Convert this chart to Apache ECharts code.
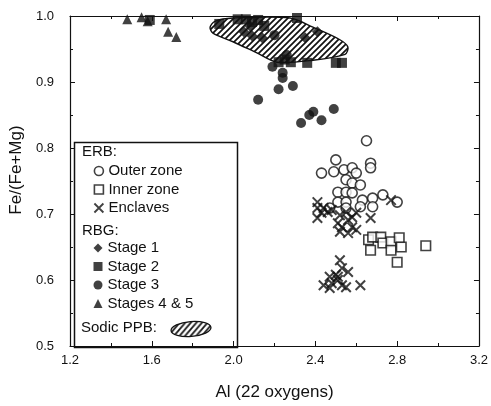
<!DOCTYPE html>
<html>
<head>
<meta charset="utf-8">
<script src="https://cdn.jsdelivr.net/npm/echarts@6/dist/echarts.min.js"></script>
<style>
html,body{margin:0;padding:0;background:#fff;}
#chart{width:491px;height:406px;}
</style>
</head>
<body>
<div id="chart"></div>
<script>
// ---- axis settings ----
const xRange = [1.2, 3.2];
const xStep = 0.4;
const yRange = [0.5, 1.0];
const yStep = 0.1;
const xTitle = 'Al (22 oxygens)';
const yTitle = 'Fe/(Fe+Mg)';

// ---- ERB ----
const outerZone = [
  [2.65,0.811],[2.67,0.777],[2.67,0.770],[2.50,0.782],[2.43,0.762],[2.49,0.764],
  [2.54,0.767],[2.58,0.770],[2.60,0.762],[2.55,0.752],[2.58,0.747],[2.62,0.744],
  [2.51,0.733],[2.55,0.733],[2.58,0.732],[2.73,0.729],[2.80,0.718],[2.51,0.718],
  [2.55,0.718],[2.63,0.721],[2.68,0.724],[2.47,0.709],[2.55,0.709],[2.62,0.711],
  [2.68,0.711]
];
const innerZone = [
  [2.66,0.661],[2.68,0.665],[2.72,0.665],[2.67,0.645],[2.73,0.656],[2.77,0.658],
  [2.77,0.645],[2.81,0.664],[2.82,0.650],[2.80,0.627],[2.94,0.652]
];
const enclaves = [
  [2.41,0.718],[2.41,0.709],[2.44,0.709],[2.41,0.694],[2.46,0.703],[2.43,0.702],
  [2.48,0.706],[2.52,0.698],[2.55,0.703],[2.58,0.695],[2.60,0.702],[2.56,0.691],
  [2.53,0.680],[2.58,0.680],[2.52,0.673],[2.56,0.671],[2.60,0.676],[2.51,0.686],
  [2.67,0.694],[2.77,0.721],
  [2.52,0.630],[2.53,0.618],[2.56,0.612],[2.50,0.608],[2.47,0.605],[2.51,0.600],
  [2.44,0.592],[2.47,0.588],[2.53,0.592],[2.55,0.589],[2.48,0.595],[2.62,0.592],
  [2.51,0.605]
];

// ---- RBG ----
const stage1 = [
  [2.05,0.976],[2.09,0.970],[2.14,0.967],[2.35,0.967],[2.41,0.976],[2.08,0.985]
];
const stage2 = [
  [1.59,0.994],[1.93,0.988],[2.02,0.995],[2.06,0.995],[2.09,0.991],[2.12,0.994],
  [2.15,0.985],[2.31,0.997],[2.22,0.930],[2.25,0.934],[2.28,0.930],[2.36,0.929],
  [2.50,0.929],[2.53,0.929]
];
const stage3 = [
  [2.19,0.923],[2.24,0.914],[2.24,0.906],[2.29,0.894],[2.22,0.889],[2.12,0.873],
  [2.33,0.838],[2.37,0.850],[2.39,0.855],[2.43,0.842],[2.49,0.859],[2.26,0.941],
  [2.20,0.971]
];
const stages45 = [
  [1.48,0.995],[1.55,0.998],[1.58,0.992],[1.67,0.995],[1.68,0.976],[1.72,0.968]
];

// ---- Sodic PPB field outline ----
const ppbOutline = [
  [1.885,0.983],[1.909,0.992],[1.997,0.997],[2.276,0.997],[2.388,0.983],
  [2.520,0.964],[2.559,0.953],[2.545,0.942],[2.388,0.933],[2.212,0.930],
  [2.114,0.944],[1.997,0.961],[1.899,0.974]
];

// hatch pattern
function makeHatch(){
  const c = document.createElement('canvas');
  const s = 6;
  c.width = s; c.height = s;
  const g = c.getContext('2d');
  g.fillStyle = '#fff'; g.fillRect(0,0,s,s);
  g.strokeStyle = '#111'; g.lineWidth = 1.7;
  g.beginPath();
  g.moveTo(-1, s+1); g.lineTo(s+1, -1);
  g.moveTo(-1, 1); g.lineTo(1, -1);
  g.moveTo(s-1, s+1); g.lineTo(s+1, s-1);
  g.stroke();
  return c;
}
const hatch = {image: makeHatch(), repeat: 'repeat'};

const FONT = 'Liberation Sans, Arial, Helvetica, sans-serif';
const INK = '#111';
const crossPath = 'path://M0,0L10,10M10,0L0,10';

const chart = echarts.init(document.getElementById('chart'), null, {renderer:'canvas'});

function axisCommon(showLabel){
  return {
    axisLine:{show:true, onZero:false, lineStyle:{color:INK, width:1.2}},
    axisTick:{show:true, inside:true, length:5, lineStyle:{color:INK, width:1}},
    minorTick:{show:true, splitNumber:2, length:3, lineStyle:{color:INK, width:1}},
    splitLine:{show:false},
    axisLabel:{show:showLabel, color:INK, fontFamily:FONT, fontSize:13}
  };
}

const openStyle = {color:'#fff', borderColor:INK, borderWidth:1.6};
const filledStyle = {color:INK, borderColor:INK, borderWidth:0};

const legendText = {fontFamily:FONT, fontSize:15, color:INK, lineHeight:18};

const option = {
  animation:false,
  backgroundColor:'#fff',
  grid:{left:70, right:12, top:16, bottom:60, containLabel:false},
  xAxis:[
    Object.assign({type:'value', position:'bottom', min:xRange[0], max:xRange[1], interval:xStep,
      name:xTitle, nameLocation:'middle', nameGap:38,
      nameTextStyle:{fontFamily:FONT, fontSize:17, color:INK}}, axisCommon(true),
      {axisLabel:{show:true, color:INK, fontFamily:FONT, fontSize:13, margin:8,
        formatter:v=>v.toFixed(1)}}),
    Object.assign({type:'value', position:'top', min:xRange[0], max:xRange[1], interval:xStep}, axisCommon(false))
  ],
  yAxis:[
    Object.assign({type:'value', position:'left', min:yRange[0], max:yRange[1], interval:yStep,
      name:yTitle, nameLocation:'middle', nameGap:44, nameRotate:90,
      nameTextStyle:{fontFamily:FONT, fontSize:17, color:INK, padding:[0,0,0,22]}}, axisCommon(true),
      {axisLabel:{show:true, color:INK, fontFamily:FONT, fontSize:13, margin:16,
        formatter:v=>v.toFixed(1)}}),
    Object.assign({type:'value', position:'right', min:yRange[0], max:yRange[1], interval:yStep}, axisCommon(false))
  ],
  legend:[
    {
      orient:'vertical', left:93.5, top:162, padding:0, itemGap:0.5,
      itemWidth:9, itemHeight:9, textStyle:legendText, selectedMode:false,
      data:[
        {name:'Outer zone', icon:'circle', itemStyle:openStyle},
        {name:'Inner zone', icon:'rect', itemStyle:openStyle},
        {name:'Enclaves', icon:crossPath, itemStyle:{color:'transparent', borderColor:INK, borderWidth:1.8}}
      ]
    },
    {
      orient:'vertical', left:93.5, top:239, padding:0, itemGap:0.5,
      itemWidth:9, itemHeight:9, textStyle:legendText, selectedMode:false,
      data:[
        {name:'Stage 1', icon:'diamond', itemStyle:filledStyle},
        {name:'Stage 2', icon:'rect', itemStyle:filledStyle},
        {name:'Stage 3', icon:'circle', itemStyle:filledStyle},
        {name:'Stages 4 & 5', icon:'triangle', itemStyle:filledStyle}
      ]
    }
  ],
  graphic:[
    {type:'rect', left:72, top:140, shape:{x:0, y:0, width:163, height:205},
      style:{fill:'none', stroke:INK, lineWidth:1.5}, z:1},
    {type:'text', left:82, top:144, style:{text:'ERB:', font:'15px '+FONT, fill:INK}, z:5},
    {type:'text', left:82, top:223, style:{text:'RBG:', font:'15px '+FONT, fill:INK}, z:5},
    {type:'text', left:81, top:320, style:{text:'Sodic PPB:', font:'15px '+FONT, fill:INK}, z:5},
    {type:'ellipse', x:191, y:329, rotation:0.08, shape:{cx:0, cy:0, rx:20, ry:7.5},
      style:{fill:hatch, stroke:INK, lineWidth:1.3}, z:5}
  ],
  series:[
    {
      type:'custom', name:'Sodic PPB', coordinateSystem:'cartesian2d', z:1,
      silent:true, data:ppbOutline,
      renderItem:function(params, api){
        if (params.dataIndex !== 0) return null;
        const pts = ppbOutline.map(p => api.coord(p));
        return {type:'polygon', shape:{points:pts, smooth:0.3},
          style:{fill:hatch, stroke:INK, lineWidth:1.4}};
      }
    },
    {type:'scatter', name:'Outer zone', data:outerZone, symbol:'circle', symbolSize:10, itemStyle:openStyle, z:3},
    {type:'scatter', name:'Inner zone', data:innerZone, symbol:'rect', symbolSize:9.5, itemStyle:openStyle, z:3},
    {type:'scatter', name:'Enclaves', data:enclaves, symbol:crossPath, symbolSize:9.5,
      itemStyle:{color:'transparent', borderColor:INK, borderWidth:2}, z:4},
    {type:'scatter', name:'Stage 1', data:stage1, symbol:'diamond', symbolSize:11, itemStyle:filledStyle, z:5},
    {type:'scatter', name:'Stage 2', data:stage2, symbol:'rect', symbolSize:10, itemStyle:filledStyle, z:5},
    {type:'scatter', name:'Stage 3', data:stage3, symbol:'circle', symbolSize:10, itemStyle:filledStyle, z:5},
    {type:'scatter', name:'Stages 4 & 5', data:stages45, symbol:'triangle', symbolSize:10, itemStyle:filledStyle, z:5}
  ]
};
chart.setOption(option);
</script>
</body>
</html>
